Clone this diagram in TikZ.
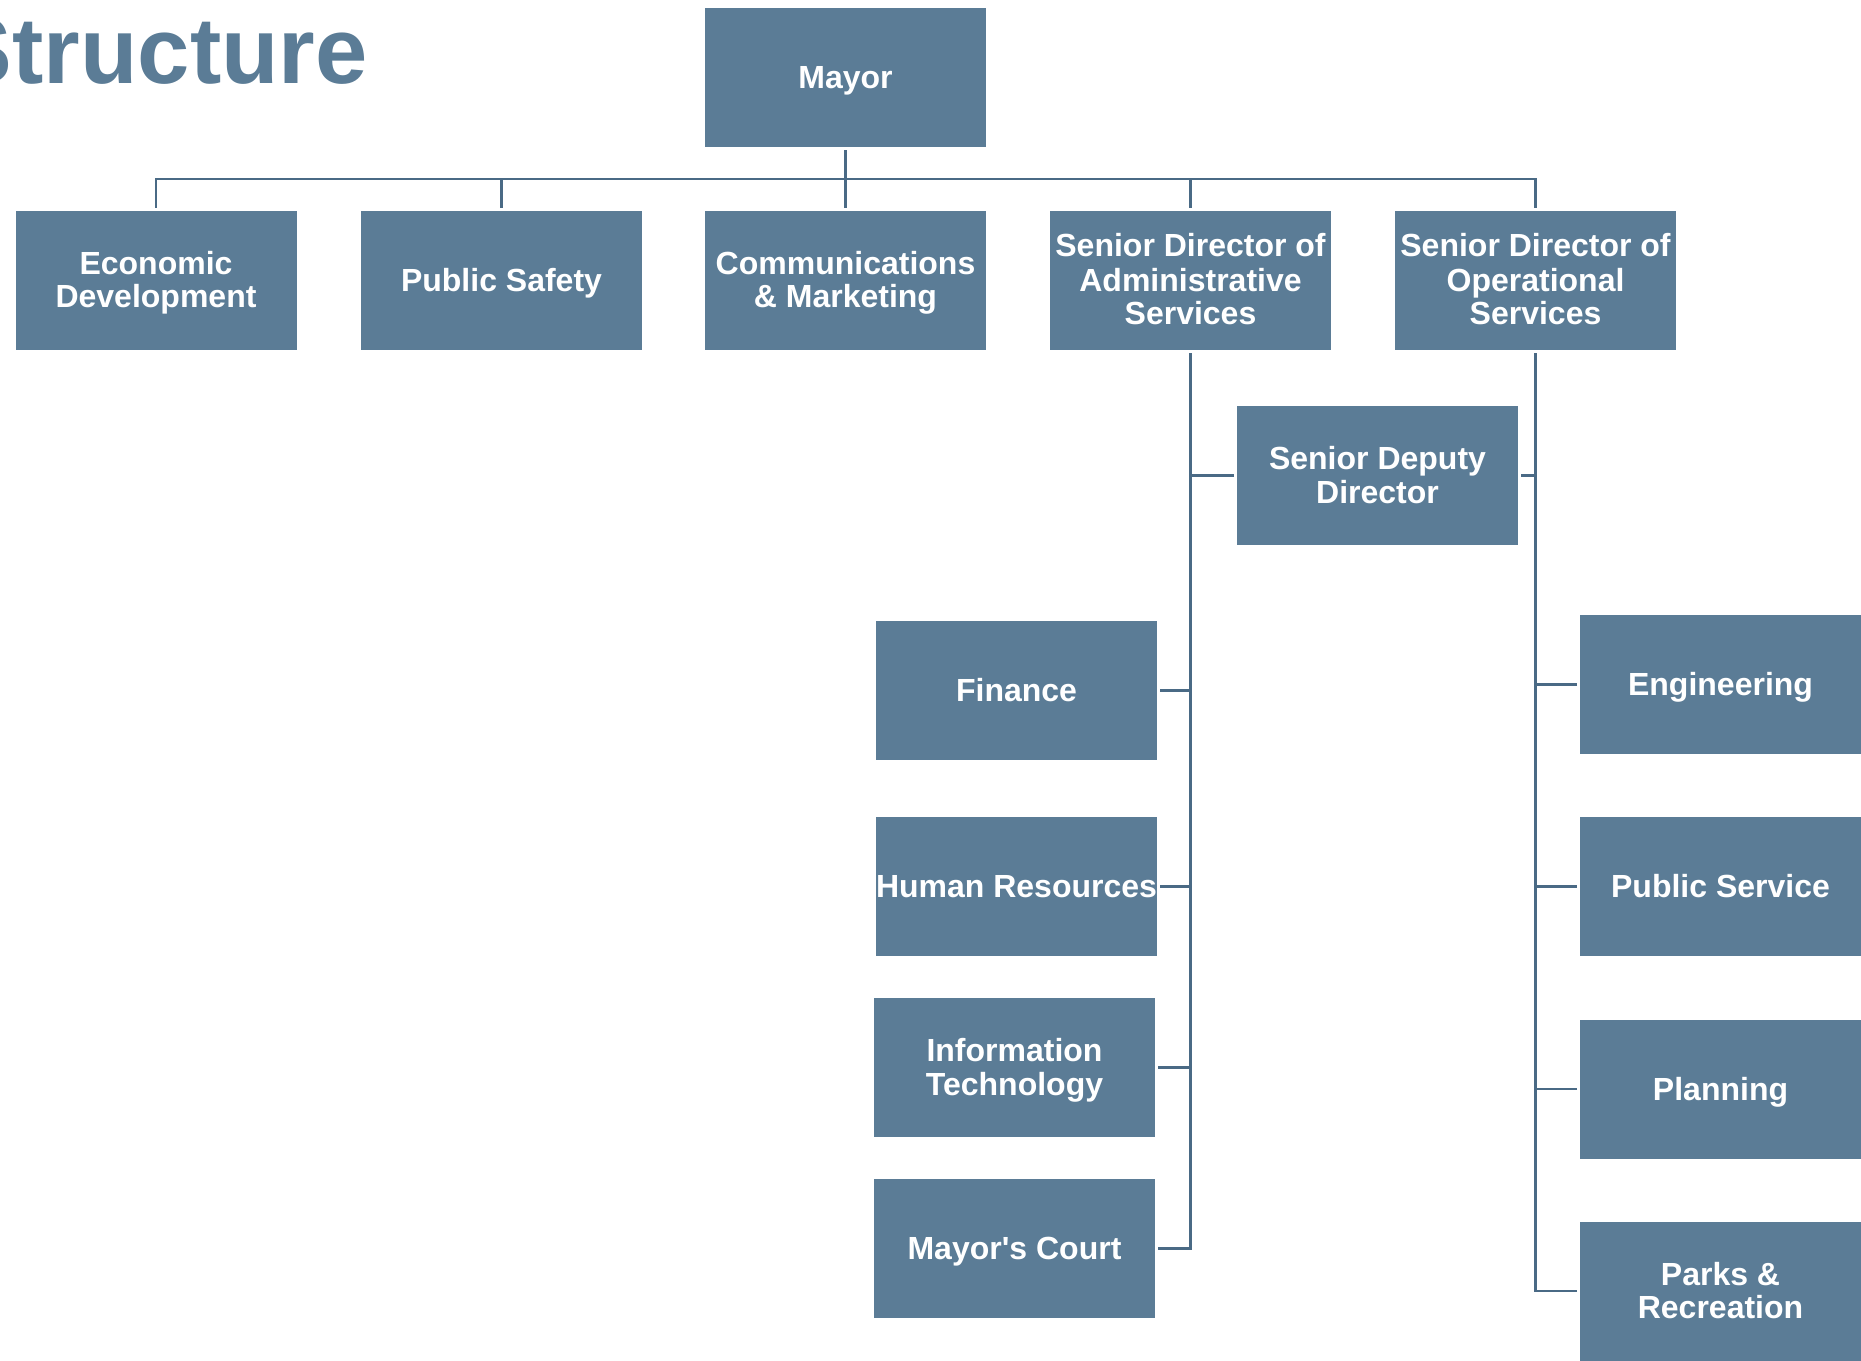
\documentclass[tikz,border=0pt]{standalone}
\usepackage{fontspec}
\setmainfont{Liberation Sans}
\definecolor{boxblue}{RGB}{91,124,150}
\definecolor{lineblue}{RGB}{74,106,133}
\tikzset{
	unitbox/.style={fill=boxblue, minimum width=140.5pt, minimum height=69.5pt, inner sep=0pt, outer sep=1.5pt, text=white, align=center, font=\fontsize{16}{16.6}\selectfont\bfseries,
		execute at begin node={\rule{0pt}{15.2pt}}, execute at end node={\rule[-4pt]{0pt}{0pt}}},
	multiline/.style={unitbox, yshift=-1.7pt, fill=none, outer sep=0pt},
	threeline/.style={multiline, font=\fontsize{16}{17}\selectfont\bfseries},
	link/.style={draw=lineblue, line width=1.1pt}
}
\begin{document}
\begin{tikzpicture}[x=0.5pt,y=0.5pt,yscale=-1,xscale=1]
		\useasboundingbox (0,0) rectangle (1861,1360);
		
		% Text Node
		\node (title) [anchor=base east, inner sep=0pt, text=boxblue, font=\fontsize{47}{50}\selectfont\bfseries] at (368,83) {Structure};
		
		%Shape: Rectangle 
		\node (mayor) [unitbox] at (845.5,77.5) {Mayor};
		%Shape: Rectangle 
		\node (econ) [unitbox] at (156,280) {};
		\node (econ-txt) [multiline] at (econ) {Economic\\Development};
		%Shape: Rectangle 
		\node (safety) [unitbox] at (501.5,280) {Public Safety};
		%Shape: Rectangle 
		\node (comm) [unitbox] at (845.5,280) {};
		\node (comm-txt) [multiline] at (comm) {Communications\\\& Marketing};
		%Shape: Rectangle 
		\node (admin) [unitbox] at (1190.5,280) {};
		\node (admin-txt) [threeline] at (admin) {Senior Director of\\Administrative\\Services};
		%Shape: Rectangle 
		\node (oper) [unitbox] at (1535.5,280) {};
		\node (oper-txt) [threeline] at (oper) {Senior Director of\\Operational\\Services};
		%Shape: Rectangle 
		\node (deputy) [unitbox] at (1377.5,475.5) {};
		\node (deputy-txt) [multiline] at (deputy) {Senior Deputy\\Director};
		
		%Shape: Rectangle 
		\node (finance) [unitbox] at (1016.5,690.5) {Finance};
		%Shape: Rectangle 
		\node (hr) [unitbox] at (1016.5,886.5) {Human Resources};
		%Shape: Rectangle 
		\node (it) [unitbox] at (1014.5,1067.5) {};
		\node (it-txt) [multiline] at (it) {Information\\Technology};
		%Shape: Rectangle 
		\node (court) [unitbox] at (1014.5,1248.5) {Mayor\textquotesingle s Court};
		
		%Shape: Rectangle 
		\node (eng) [unitbox] at (1720.5,684.5) {Engineering};
		%Shape: Rectangle 
		\node (pubserv) [unitbox] at (1720.5,886.5) {Public Service};
		%Shape: Rectangle 
		\node (planning) [unitbox] at (1720.5,1089) {Planning};
		%Shape: Rectangle 
		\node (parks) [unitbox] at (1720.5,1291) {};
		\node (parks-txt) [multiline] at (parks) {Parks \&\\Recreation};
		
		\coordinate (bus) at (845.5,179);
		
		%Straight Lines 
		\draw [link] (mayor.south) -- (bus);
		%Straight Lines 
		\draw [link] (econ.north) |- (bus);
		%Straight Lines 
		\draw [link] (safety.north) |- (bus);
		%Straight Lines 
		\draw [link] (comm.north) -- (bus);
		%Straight Lines 
		\draw [link] (admin.north) |- (bus);
		%Straight Lines 
		\draw [link] (oper.north) |- (bus);
		
		%Straight Lines 
		\draw [link] (deputy.west) -| (admin.south);
		%Straight Lines 
		\draw [link] (deputy.east) -| (oper.south);
		
		%Straight Lines 
		\draw [link] (finance.east) -| (admin.south);
		%Straight Lines 
		\draw [link] (hr.east) -| (admin.south);
		%Straight Lines 
		\draw [link] (it.east) -| (admin.south);
		%Straight Lines 
		\draw [link] (court.east) -| (admin.south);
		
		%Straight Lines 
		\draw [link] (eng.west) -| (oper.south);
		%Straight Lines 
		\draw [link] (pubserv.west) -| (oper.south);
		%Straight Lines 
		\draw [link] (planning.west) -| (oper.south);
		%Straight Lines 
		\draw [link] (parks.west) -| (oper.south);
		
	\end{tikzpicture}
\end{document}
